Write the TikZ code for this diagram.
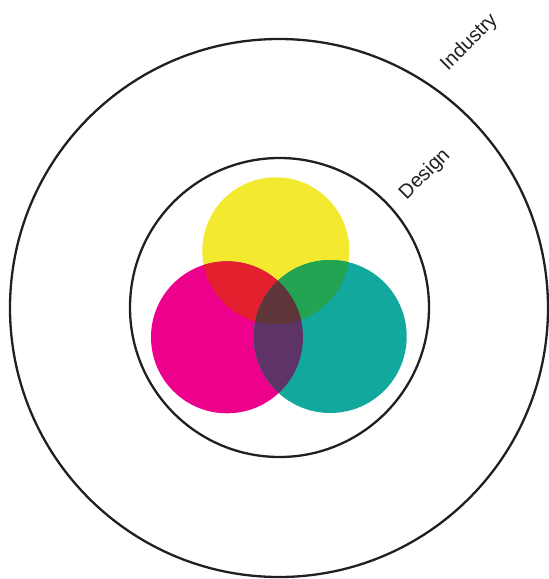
\documentclass[tikz,border=0pt]{standalone}
\usepackage{fontspec}
\setmainfont{Liberation Sans}
\definecolor{cyel}{HTML}{F3EA2F}
\definecolor{cmag}{HTML}{EC008C}
\definecolor{cteal}{HTML}{13A89E}
\definecolor{cred}{HTML}{E3202E}
\definecolor{cgreen}{HTML}{22A452}
\definecolor{cpurp}{HTML}{5E3468}
\definecolor{cdark}{HTML}{5E3538}
\definecolor{cline}{HTML}{231F20}
\begin{document}
\begin{tikzpicture}[x=1pt,y=-1pt,
  ring/.style={draw=cline,line width=2.3pt},
  lbl/.style={font=\fontsize{20}{22}\selectfont,text=cline,rotate=45,inner sep=0pt}]
\useasboundingbox (0,0) rectangle (549,579);
\coordinate (O) at (279,308);
\coordinate (Y) at (275.8,250.8);
\coordinate (M) at (227,337.3);
\coordinate (T) at (330.2,336.5);
\draw[ring] (O) circle[radius=269pt];
\draw[ring] (279.5,307.5) circle[radius=149.5pt];
\fill[cyel] (Y) circle[radius=73.5pt];
\fill[cmag] (M) circle[radius=76pt];
\fill[cteal] (T) circle[radius=76.5pt];
\begin{scope}
  \clip (Y) circle[radius=73.5pt];
  \fill[cred] (M) circle[radius=76pt];
  \fill[cgreen] (T) circle[radius=76.5pt];
\end{scope}
\begin{scope}
  \clip (M) circle[radius=76pt];
  \fill[cpurp] (T) circle[radius=76.5pt];
\end{scope}
\begin{scope}
  \clip (Y) circle[radius=73.5pt];
  \clip (M) circle[radius=76pt];
  \fill[cdark] (T) circle[radius=76.5pt];
\end{scope}
\node[lbl] (ind) at (469.5,42.5) {Industry};
\node[lbl] (des) at (425,174.5) {Design};
\end{tikzpicture}
\end{document}
